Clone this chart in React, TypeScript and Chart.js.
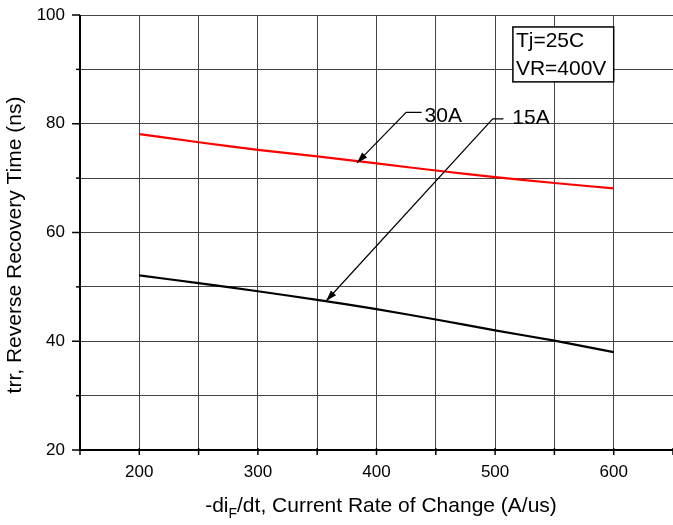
import React, { useEffect, useRef } from "react";
import { Chart, registerables } from "chart.js";
Chart.register(...registerables);

const xValues = [200, 250, 300, 350, 400, 450, 500, 550, 600];
const series30A = [78.1, 76.6, 75.2, 74.0, 72.7, 71.4, 70.2, 69.1, 68.1];
const series15A = [52.1, 50.7, 49.2, 47.6, 45.9, 44.0, 42.0, 40.1, 38.0];
const xTickLabels = [200, 300, 400, 500, 600];
const yTickLabels = [20, 40, 60, 80, 100];
const xRange = [150, 650];
const yRange = [20, 100];
const conditionText = ["Tj=25C", "VR=400V"];
// annotation positions in data units
const boxData = { x1: 515, x2: 600, y1: 97.8, y2: 87.7 };
const callouts = [
  { label: "30A", tip: [383.5, 72.8], bend: [425, 82.1], end: [438, 82.1], text: [440.5, 81.3] },
  { label: "15A", tip: [357.5, 47.4], bend: [498, 80.9], end: [507, 80.9], text: [514.5, 81.1] },
];

export default function App() {
  const ref = useRef<HTMLCanvasElement>(null);
  useEffect(() => {
    document.body.style.margin = "0";
    const canvas = ref.current!;
    const font = "'Liberation Sans', Arial, sans-serif";
    const overlay = {
      id: "overlay",
      afterDraw(chart: any) {
        const ctx = chart.ctx;
        const xs = chart.scales.x;
        const ys = chart.scales.y;
        const area = chart.chartArea;
        ctx.save();
        // axis tick marks
        ctx.strokeStyle = "#000";
        ctx.lineWidth = 1.5;
        for (let v = yRange[0]; v <= yRange[1]; v += 10) {
          const py = ys.getPixelForValue(v);
          const len = v % 20 === 0 ? 8 : 4;
          ctx.beginPath();
          ctx.moveTo(area.left - len, py);
          ctx.lineTo(area.left, py);
          ctx.stroke();
        }
        for (let v = xRange[0]; v <= xRange[1]; v += 50) {
          const px = xs.getPixelForValue(v);
          ctx.beginPath();
          ctx.moveTo(px, area.bottom - 2);
          ctx.lineTo(px, area.bottom + 5);
          ctx.stroke();
        }
        // axes borders
        ctx.lineWidth = 2;
        ctx.beginPath();
        ctx.moveTo(area.left, area.top);
        ctx.lineTo(area.left, area.bottom);
        ctx.lineTo(area.right, area.bottom);
        ctx.stroke();
        // y title
        ctx.fillStyle = "#000";
        ctx.font = `21px ${font}`;
        ctx.textAlign = "center";
        ctx.textBaseline = "middle";
        ctx.save();
        ctx.translate(15, 245);
        ctx.rotate(-Math.PI / 2);
        ctx.fillText("trr, Reverse Recovery Time (ns)", 0, 0);
        ctx.restore();
        // x title with subscript
        const p1 = "-di";
        const p2 = "F";
        const p3 = "/dt, Current Rate of Change (A/us)";
        ctx.font = `21px ${font}`;
        const w1 = ctx.measureText(p1).width;
        const w3 = ctx.measureText(p3).width;
        ctx.font = `14px ${font}`;
        const w2 = ctx.measureText(p2).width;
        const total = w1 + w2 + w3;
        const cx = 381;
        let sx = cx - total / 2;
        const by = 512;
        ctx.textAlign = "left";
        ctx.textBaseline = "alphabetic";
        ctx.font = `21px ${font}`;
        ctx.fillText(p1, sx, by);
        sx += w1;
        ctx.font = `14px ${font}`;
        ctx.fillText(p2, sx, by + 6);
        sx += w2;
        ctx.font = `21px ${font}`;
        ctx.fillText(p3, sx, by);
        // condition box
        const bx1 = xs.getPixelForValue(boxData.x1);
        const bx2 = xs.getPixelForValue(boxData.x2);
        const by1 = ys.getPixelForValue(boxData.y1);
        const by2 = ys.getPixelForValue(boxData.y2);
        ctx.fillStyle = "#fff";
        ctx.fillRect(bx1, by1, bx2 - bx1, by2 - by1);
        ctx.lineWidth = 1.5;
        ctx.strokeRect(bx1, by1, bx2 - bx1, by2 - by1);
        ctx.fillStyle = "#000";
        ctx.font = `21px ${font}`;
        ctx.textBaseline = "middle";
        const lh = (by2 - by1) / 2;
        conditionText.forEach((t, i) => {
          ctx.fillText(t, bx1 + 3, by1 + lh * (i + 0.5) + 1);
        });
        // callouts
        callouts.forEach((c) => {
          const tx = xs.getPixelForValue(c.tip[0]);
          const ty = ys.getPixelForValue(c.tip[1]);
          const bxp = xs.getPixelForValue(c.bend[0]);
          const byp = ys.getPixelForValue(c.bend[1]);
          const ex = xs.getPixelForValue(c.end[0]);
          const ey = ys.getPixelForValue(c.end[1]);
          ctx.strokeStyle = "#000";
          ctx.lineWidth = 1.2;
          ctx.beginPath();
          ctx.moveTo(ex, ey);
          ctx.lineTo(bxp, byp);
          ctx.lineTo(tx, ty);
          ctx.stroke();
          const ang = Math.atan2(ty - byp, tx - bxp);
          const L = 11, W = 3.5;
          ctx.beginPath();
          ctx.moveTo(tx, ty);
          ctx.lineTo(tx - L * Math.cos(ang) + W * Math.sin(ang), ty - L * Math.sin(ang) - W * Math.cos(ang));
          ctx.lineTo(tx - L * Math.cos(ang) - W * Math.sin(ang), ty - L * Math.sin(ang) + W * Math.cos(ang));
          ctx.closePath();
          ctx.fillStyle = "#000";
          ctx.fill();
          ctx.font = `21px ${font}`;
          ctx.textAlign = "left";
          ctx.textBaseline = "middle";
          ctx.fillText(c.label, xs.getPixelForValue(c.text[0]), ys.getPixelForValue(c.text[1]));
        });
        ctx.restore();
      },
    };
    const chart = new Chart(canvas, {
      type: "line",
      data: {
        datasets: [
          {
            label: "30A",
            data: xValues.map((x, i) => ({ x, y: series30A[i] })),
            borderColor: "#ff0000",
            borderWidth: 2.2,
            pointRadius: 0,
            tension: 0.3,
          },
          {
            label: "15A",
            data: xValues.map((x, i) => ({ x, y: series15A[i] })),
            borderColor: "#000000",
            borderWidth: 2.2,
            pointRadius: 0,
            tension: 0.3,
          },
        ],
      },
      options: {
        animation: false,
        responsive: false,
        maintainAspectRatio: false,
        layout: { padding: { top: 15, left: 0, right: 0, bottom: 0 } },
        plugins: { legend: { display: false }, tooltip: { enabled: false } },
        scales: {
          x: {
            type: "linear",
            min: xRange[0],
            max: xRange[1],
            afterFit: (s: any) => {
              s.height = 75;
              s.paddingLeft = 0;
              s.paddingRight = 0;
            },
            afterBuildTicks: (s: any) => {
              const t = [];
              for (let v = xRange[0]; v <= xRange[1]; v += 50) t.push({ value: v });
              s.ticks = t;
            },
            ticks: {
              autoSkip: false,
              maxRotation: 0,
              padding: 12,
              color: "#000",
              font: { family: font, size: 17 },
              callback: (v: any) => (xTickLabels.includes(v) ? String(v) : ""),
            },
            grid: { color: "#444", lineWidth: 1, drawTicks: false },
            border: { display: false },
          },
          y: {
            min: yRange[0],
            max: yRange[1],
            afterFit: (s: any) => {
              s.width = 80;
              s.paddingTop = 0;
              s.paddingBottom = 0;
            },
            afterBuildTicks: (s: any) => {
              const t = [];
              for (let v = yRange[0]; v <= yRange[1]; v += 10) t.push({ value: v });
              s.ticks = t;
            },
            ticks: {
              autoSkip: false,
              padding: 15,
              color: "#000",
              font: { family: font, size: 17 },
              callback: (v: any) => (yTickLabels.includes(v) ? String(v) : ""),
            },
            grid: { color: "#444", lineWidth: 1, drawTicks: false },
            border: { display: false },
          },
        },
      },
      plugins: [overlay],
    });
    return () => chart.destroy();
  }, []);
  return <canvas ref={ref} width={673} height={525} style={{ display: "block" }} />;
}
